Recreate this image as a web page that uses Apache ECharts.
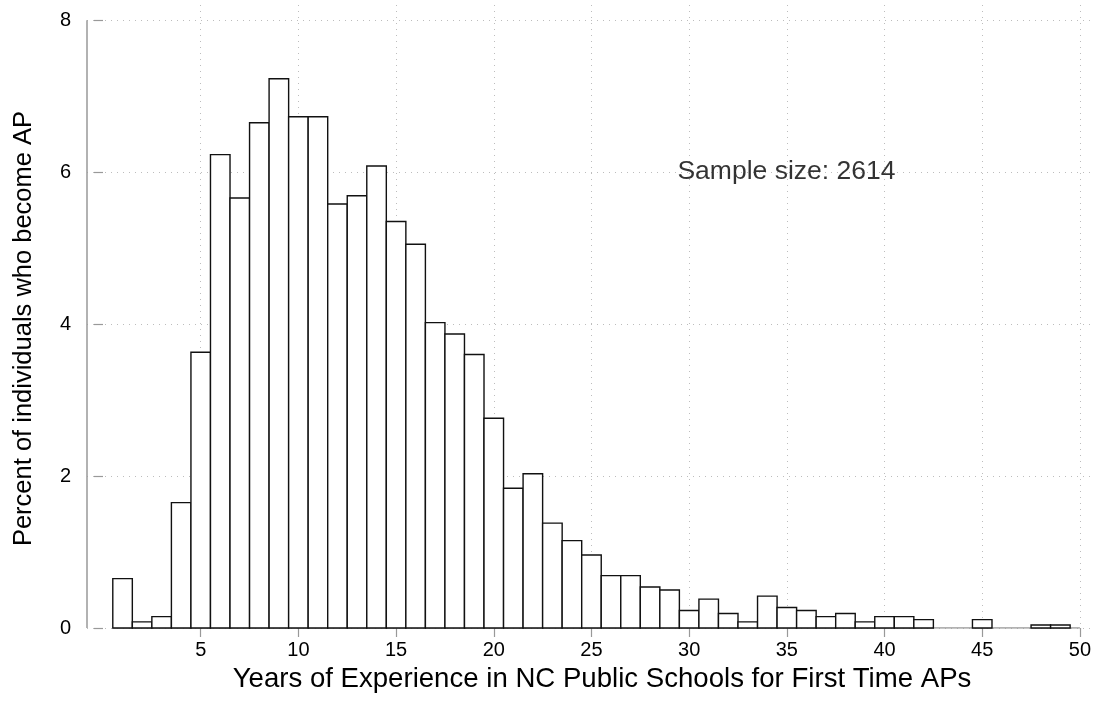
<!DOCTYPE html>
<html>
<head>
<meta charset="utf-8">
<script src="https://cdn.jsdelivr.net/npm/echarts@6/dist/echarts.min.js"></script>
<style>
html,body{margin:0;padding:0;background:#fff;}
#chart{width:1099px;height:704px;}
</style>
</head>
<body>
<div id="chart"></div>
<script>
// Bin centres (years of experience), width 1
const years = [1,2,3,4,5,6,7,8,9,10,11,12,13,14,15,16,17,18,19,20,21,22,23,24,25,26,27,28,29,30,31,32,33,34,35,36,37,38,39,40,41,42,43,44,45,46,47,48,49];
// Percent of individuals
const percents = [0.65,0.08,0.15,1.65,3.63,6.23,5.66,6.65,7.23,6.73,6.73,5.58,5.69,6.08,5.35,5.05,4.02,3.87,3.60,2.76,1.84,2.03,1.38,1.15,0.96,0.69,0.69,0.54,0.50,0.23,0.38,0.19,0.08,0.42,0.27,0.23,0.15,0.19,0.08,0.15,0.15,0.11,0,0,0.11,0,0,0.04,0.04];
const xTicks = [5,10,15,20,25,30,35,40,45,50];
const yTicks = [0,2,4,6,8];
const binWidth = 1;
const annotationText = 'Sample size: 2614';
const annotationPos = [29.4, 6];

const xMin = -0.82, xMax = 50.67, yMax = 8.2;
const FONT = '"Liberation Sans", Arial, Helvetica, sans-serif';
const gridLine = {show: true, lineStyle: {color: '#bdbdbd', width: 1, type: [1, 5]}};

const chart = echarts.init(document.getElementById('chart'), null, {renderer: 'canvas'});
chart.setOption({
  animation: false,
  backgroundColor: '#fff',
  grid: {left: 87, right: 6, top: 5, bottom: 76, containLabel: false},
  xAxis: {
    type: 'value', min: xMin, max: xMax,
    name: 'Years of Experience in NC Public Schools for First Time APs',
    nameLocation: 'middle', nameGap: 19,
    nameTextStyle: {fontFamily: FONT, fontSize: 27.6, color: '#000', padding: [0,0,0,24]},
    axisLine: {show: false},
    axisTick: {show: true, customValues: xTicks, length: 9, lineStyle: {color: '#999', width: 1.2}},
    axisLabel: {show: true, customValues: xTicks, margin: 12, fontFamily: FONT, fontSize: 20, color: '#000'},
    splitLine: gridLine
  },
  yAxis: {
    type: 'value', min: 0, max: yMax,
    name: 'Percent of individuals who become AP',
    nameLocation: 'middle', nameGap: 50, nameRotate: 90,
    nameTextStyle: {fontFamily: FONT, fontSize: 25.5, color: '#000', padding: [0,24,0,0]},
    axisLine: {show: false},
    axisTick: {show: true, customValues: yTicks, length: 9, lineStyle: {color: '#999', width: 1.2}},
    axisLabel: {show: true, customValues: yTicks, margin: 16, fontFamily: FONT, fontSize: 20, color: '#000'},
    splitLine: gridLine
  },
  series: [
    {
      type: 'line', silent: true, symbol: 'none', z: 1,
      lineStyle: {color: '#999', width: 1.5},
      data: [[xMin, 0], [xMin, yTicks[yTicks.length - 1]]]
    },
    {
      type: 'line', silent: true, symbol: 'none', z: 1,
      lineStyle: {color: '#999', width: 1.5},
      data: [[years[0] - binWidth / 2, 0], [xTicks[xTicks.length - 1], 0]]
    },
    {
      type: 'custom', z: 3,
      data: years.map((y, i) => [y, percents[i]]),
      renderItem: function (params, api) {
        const x = api.value(0), v = api.value(1);
        if (!(v > 0)) return null;
        const p0 = api.coord([x - binWidth / 2, v]);
        const p1 = api.coord([x + binWidth / 2, 0]);
        return {
          type: 'rect',
          shape: {x: p0[0], y: p0[1], width: p1[0] - p0[0], height: p1[1] - p0[1]},
          style: {fill: '#fff', stroke: '#111', lineWidth: 1.4}
        };
      }
    },
    {
      type: 'scatter', silent: true, symbolSize: 0, z: 4,
      data: [annotationPos],
      label: {
        show: true, position: [0, 0], align: 'left', verticalAlign: 'middle',
        formatter: annotationText, fontFamily: FONT, fontSize: 26.5, color: '#000'
      }
    }
  ]
});
</script>
</body>
</html>
